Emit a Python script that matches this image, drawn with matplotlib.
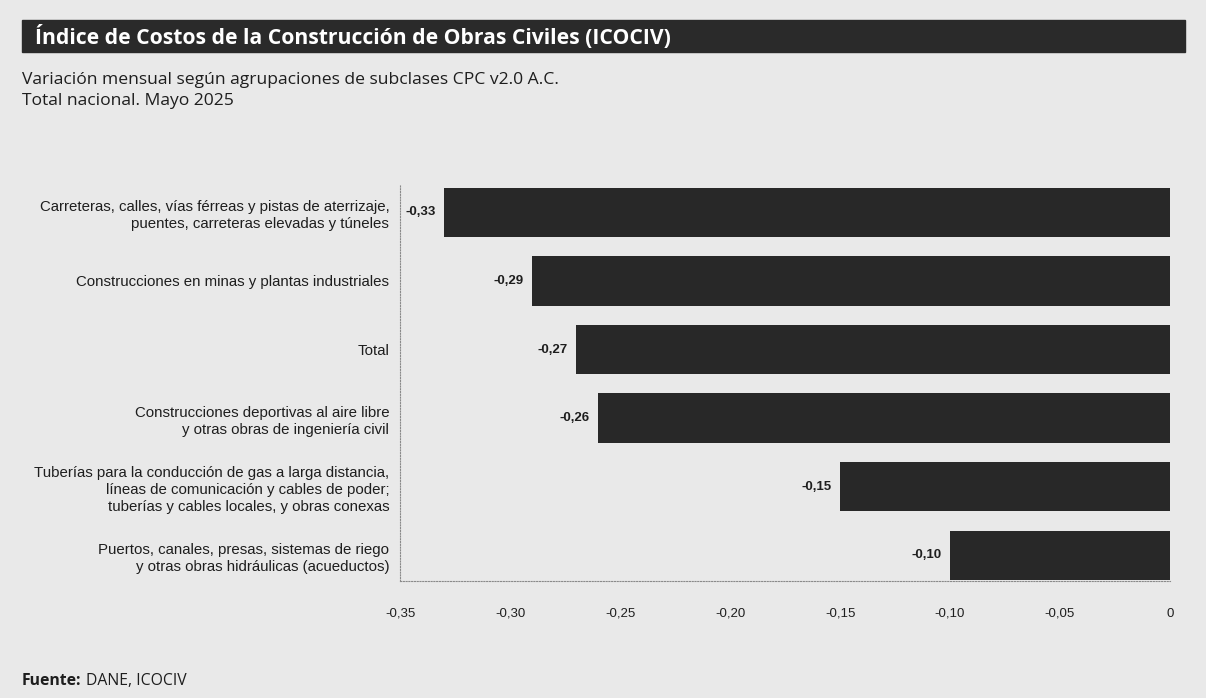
#!/usr/bin/env python3
"""ICOCIV: variación mensual por agrupaciones de subclases CPC, mayo 2025."""

import matplotlib
matplotlib.use("Agg")
import matplotlib.pyplot as plt
from matplotlib.patches import Rectangle

categories = [
    "Carreteras, calles, vías férreas y pistas de aterrizaje,\npuentes, carreteras elevadas y túneles",
    "Construcciones en minas y plantas industriales",
    "Total",
    "Construcciones deportivas al aire libre\ny otras obras de ingeniería civil",
    "Tuberías para la conducción de gas a larga distancia,\nlíneas de comunicación y cables de poder;\ntuberías y cables locales, y obras conexas",
    "Puertos, canales, presas, sistemas de riego\ny otras obras hidráulicas (acueductos)",
]
values = [-0.33, -0.29, -0.27, -0.26, -0.15, -0.10]
xticks = [-0.35, -0.30, -0.25, -0.20, -0.15, -0.10, -0.05, 0]
xtick_labels = ["-0,35", "-0,30", "-0,25", "-0,20", "-0,15", "-0,10", "-0,05", "0"]

BG = "#e9e9e9"
BAR = "#282828"
TXT = "#1e1e1e"

fig = plt.figure(figsize=(12.06, 6.98), dpi=100, facecolor=BG)
ax = fig.add_axes([0.332, 0.167, 0.638, 0.568])
ax.set_facecolor(BG)

ypos = list(range(len(categories)))
ax.barh(ypos, values, height=0.72, color=BAR, zorder=2)
for y, v in zip(ypos, values):
    ax.text(v - 0.004, y, f"{v:.2f}".replace(".", ","), ha="right", va="center",
            fontsize=9.5, fontweight="bold", color=TXT, family="Liberation Sans")

ax.set_xlim(-0.35, 0)
ax.set_ylim(5.38, -0.4)
ax.set_xticks(xticks)
ax.set_xticklabels(xtick_labels, family="Liberation Sans", fontsize=9.5, color=TXT)
ax.set_yticks(ypos)
ax.set_yticklabels(categories, family="Liberation Sans", fontsize=10.8, color=TXT,
                   linespacing=1.3)
ax.tick_params(axis="both", length=0)
ax.tick_params(axis="x", pad=19)
ax.tick_params(axis="y", pad=8)
for side in ("top", "right"):
    ax.spines[side].set_visible(False)
for side in ("left", "bottom"):
    ax.spines[side].set_linestyle((0, (1, 1.5)))
    ax.spines[side].set_color("#8a8a8a")
    ax.spines[side].set_linewidth(0.8)

# title banner
fig.patches.append(Rectangle((22 / 1206, 1 - 52 / 698), (1185 - 22) / 1206, 32 / 698,
                             transform=fig.transFigure, color="#2a2a2a", zorder=0))
fig.text(35 / 1206, 1 - 37 / 698,
         "Índice de Costos de la Construcción de Obras Civiles (ICOCIV)",
         color="white", fontsize=15.2, fontweight="bold", family="Open Sans",
         va="center", ha="left")
fig.text(22 / 1206, 1 - 80 / 698,
         "Variación mensual según agrupaciones de subclases CPC v2.0 A.C.",
         color=TXT, fontsize=12.6, family="Open Sans", va="center", ha="left")
fig.text(22 / 1206, 1 - 101 / 698, "Total nacional. Mayo 2025",
         color=TXT, fontsize=12.6, family="Open Sans", va="center", ha="left")

src = fig.text(22 / 1206, 1 - 681 / 698, "Fuente:", color=TXT, fontsize=11.3,
               fontweight="bold", family="Open Sans", va="center", ha="left")
fig.canvas.draw()
bb = src.get_window_extent()
fig.text((bb.x1 + 4) / 1206, 1 - 681 / 698, "DANE, ICOCIV", color=TXT, fontsize=11.3,
         family="Open Sans", va="center", ha="left")

fig.savefig("out.png", dpi=100, facecolor=BG)
